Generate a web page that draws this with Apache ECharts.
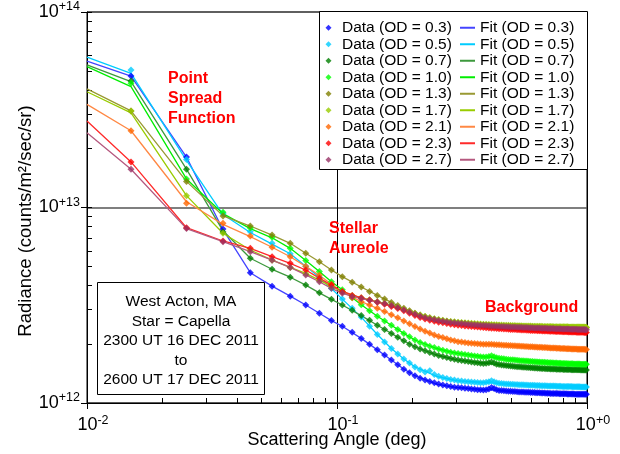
<!DOCTYPE html>
<html>
<head>
<meta charset="utf-8">
<script src="https://cdn.jsdelivr.net/npm/echarts@6/dist/echarts.min.js"></script>
<style>
html,body{margin:0;padding:0;background:#fff;}
#chart{width:620px;height:454px;}
</style>
</head>
<body>
<div id="chart"></div>
<script>
// ---------- DATA (radiance in units of 1e12 counts/m2/sec/sr) ----------
const odLabels = ['0.3','0.5','0.7','1.0','1.3','1.7','2.1','2.3','2.7'];

const dataAngles = [
0.015,0.025,0.035,0.045,0.055,0.065,0.075,0.085,0.095,0.105,
0.115,0.125,0.135,0.145,0.155,0.165,0.175,0.185,0.195,0.205,
0.215,0.225,0.235,0.245,0.255,0.265,0.275,0.285,0.295,0.305,
0.315,0.325,0.335,0.345,0.355,0.365,0.375,0.385,0.395,0.405,
0.415,0.425,0.435,0.445,0.455,0.465,0.475,0.485,0.495,0.505,
0.515,0.525,0.535,0.545,0.555,0.565,0.575,0.585,0.595,0.605,
0.615,0.625,0.635,0.645,0.655,0.665,0.675,0.685,0.695,0.705,
0.715,0.725,0.735,0.745,0.755,0.765,0.775,0.785,0.795,0.805,
0.815,0.825,0.835,0.845,0.855,0.865,0.875,0.885,0.895,0.905,
0.915,0.925,0.935,0.945,0.955,0.965,0.975,0.985,0.995];

const data03 = [
47,18.1,7.76,4.64,3.96,3.52,3.17,2.88,2.64,2.47,
2.3,2.14,2.0,1.87,1.76,1.66,1.57,1.49,1.43,1.38,
1.34,1.31,1.29,1.27,1.25,1.235,1.225,1.215,1.205,1.2,
1.195,1.19,1.185,1.18,1.175,1.17,1.168,1.165,1.17,1.18,
1.2,1.185,1.17,1.16,1.158,1.155,1.152,1.15,1.148,1.146,
1.145,1.143,1.14,1.14,1.138,1.136,1.135,1.134,1.132,1.131,
1.13,1.129,1.128,1.127,1.126,1.125,1.124,1.123,1.122,1.121,
1.12,1.12,1.119,1.118,1.118,1.117,1.116,1.116,1.115,1.115,
1.114,1.114,1.113,1.113,1.112,1.112,1.111,1.111,1.11,1.11,
1.11,1.109,1.109,1.108,1.108,1.108,1.107,1.107,1.107];
const data05 = [
50.5,17.6,9.33,7.52,6.56,5.8,5.0,4.4,3.85,3.4,
3.05,2.75,2.47,2.24,2.05,1.9,1.78,1.68,1.6,1.53,
1.48,1.44,1.46,1.4,1.37,1.35,1.335,1.32,1.31,1.3,
1.295,1.29,1.285,1.28,1.276,1.272,1.27,1.268,1.275,1.285,
1.3,1.285,1.27,1.262,1.258,1.255,1.252,1.25,1.248,1.246,
1.244,1.242,1.24,1.239,1.238,1.236,1.235,1.234,1.233,1.232,
1.231,1.23,1.229,1.228,1.227,1.226,1.225,1.224,1.223,1.222,
1.222,1.221,1.22,1.22,1.219,1.218,1.218,1.217,1.216,1.216,
1.215,1.215,1.214,1.214,1.213,1.213,1.212,1.212,1.211,1.211,
1.21,1.21,1.21,1.209,1.209,1.209,1.208,1.208,1.208];
const data07 = [
44.4,15.7,7.5,5.5,4.83,4.4,4.01,3.66,3.39,3.17,
2.98,2.8,2.65,2.5,2.38,2.27,2.17,2.08,2.0,1.94,
1.89,1.85,1.81,1.78,1.75,1.73,1.71,1.69,1.675,1.66,
1.65,1.64,1.63,1.62,1.612,1.605,1.598,1.592,1.595,1.605,
1.62,1.6,1.58,1.572,1.566,1.56,1.555,1.55,1.545,1.541,
1.537,1.534,1.531,1.528,1.525,1.522,1.52,1.517,1.515,1.513,
1.511,1.509,1.507,1.505,1.503,1.501,1.5,1.498,1.497,1.495,
1.494,1.493,1.492,1.491,1.49,1.489,1.488,1.487,1.486,1.485,
1.485,1.484,1.483,1.483,1.482,1.481,1.481,1.48,1.48,1.479,
1.479,1.478,1.478,1.477,1.477,1.477,1.476,1.476,1.476];
const data10 = [
43.2,14.0,9.45,7.85,7.04,6.18,5.35,4.7,4.17,3.8,
3.45,3.18,2.96,2.78,2.63,2.5,2.38,2.27,2.18,2.1,
2.04,1.99,1.95,1.92,1.89,1.86,1.84,1.82,1.8,1.79,
1.78,1.77,1.76,1.75,1.74,1.732,1.725,1.718,1.72,1.73,
1.745,1.725,1.705,1.695,1.688,1.682,1.676,1.671,1.666,1.662,
1.658,1.654,1.65,1.647,1.644,1.641,1.638,1.635,1.632,1.63,
1.627,1.625,1.622,1.62,1.618,1.616,1.614,1.612,1.61,1.608,
1.606,1.605,1.603,1.601,1.6,1.598,1.597,1.595,1.594,1.593,
1.592,1.591,1.59,1.589,1.588,1.587,1.586,1.585,1.584,1.583,
1.582,1.582,1.581,1.58,1.58,1.579,1.578,1.578,1.577];
const data13 = [
31.2,13.6,9.06,8.04,7.23,6.56,5.83,5.28,4.79,4.43,
4.15,3.92,3.72,3.55,3.4,3.27,3.15,3.05,2.96,2.88,
2.82,2.77,2.73,2.69,2.66,2.64,2.62,2.6,2.585,2.575,
2.565,2.555,2.545,2.537,2.53,2.524,2.518,2.513,2.508,2.504,
2.5,2.496,2.492,2.489,2.486,2.483,2.48,2.477,2.475,2.472,
2.47,2.468,2.466,2.464,2.462,2.46,2.458,2.456,2.455,2.453,
2.452,2.45,2.449,2.448,2.446,2.445,2.444,2.443,2.442,2.441,
2.44,2.439,2.438,2.437,2.436,2.436,2.435,2.434,2.433,2.433,
2.432,2.431,2.431,2.43,2.43,2.429,2.428,2.428,2.427,2.427,
2.426,2.426,2.425,2.425,2.424,2.424,2.424,2.423,2.423];
const data17 = [
31.2,11.5,7.38,6.06,5.38,4.94,4.6,4.25,3.95,3.7,
3.55,3.45,3.37,3.3,3.24,3.17,3.1,3.02,2.95,2.88,
2.82,2.77,2.73,2.7,2.67,2.65,2.63,2.615,2.6,2.59,
2.58,2.57,2.562,2.555,2.548,2.542,2.536,2.531,2.526,2.522,
2.518,2.514,2.51,2.507,2.504,2.501,2.498,2.495,2.493,2.49,
2.488,2.486,2.484,2.482,2.48,2.478,2.477,2.475,2.474,2.472,
2.471,2.47,2.468,2.467,2.466,2.465,2.464,2.463,2.462,2.461,
2.46,2.459,2.458,2.458,2.457,2.456,2.455,2.455,2.454,2.453,
2.453,2.452,2.452,2.451,2.45,2.45,2.449,2.449,2.448,2.448,
2.447,2.447,2.446,2.446,2.446,2.445,2.445,2.444,2.444];
const data21 = [
24.7,10.5,8.3,7.15,6.26,5.6,5.0,4.5,4.05,3.7,
3.45,3.3,3.17,3.05,2.94,2.83,2.73,2.63,2.54,2.46,
2.39,2.33,2.28,2.23,2.19,2.16,2.13,2.1,2.08,2.06,
2.05,2.04,2.03,2.022,2.015,2.009,2.004,2.0,1.998,1.998,
1.996,1.992,1.988,1.984,1.98,1.977,1.974,1.971,1.968,1.965,
1.962,1.959,1.956,1.953,1.95,1.947,1.945,1.942,1.94,1.937,
1.935,1.932,1.93,1.928,1.926,1.924,1.922,1.92,1.918,1.916,
1.914,1.912,1.91,1.909,1.907,1.905,1.904,1.902,1.901,1.899,
1.898,1.896,1.895,1.894,1.892,1.891,1.89,1.889,1.888,1.887,
1.886,1.885,1.884,1.883,1.882,1.881,1.881,1.88,1.879];
const data23 = [
17.1,7.88,6.74,6.18,5.6,5.18,4.79,4.35,4.01,3.72,
3.55,3.45,3.36,3.28,3.2,3.12,3.04,2.96,2.88,2.8,
2.74,2.69,2.65,2.62,2.59,2.57,2.55,2.53,2.515,2.5,
2.49,2.48,2.47,2.46,2.452,2.445,2.438,2.432,2.426,2.42,
2.415,2.41,2.405,2.4,2.396,2.392,2.388,2.384,2.38,2.377,
2.374,2.371,2.368,2.365,2.362,2.36,2.357,2.355,2.352,2.35,
2.348,2.346,2.344,2.342,2.34,2.338,2.336,2.334,2.332,2.331,
2.329,2.327,2.326,2.324,2.323,2.321,2.32,2.318,2.317,2.316,
2.314,2.313,2.312,2.311,2.309,2.308,2.307,2.306,2.305,2.304,
2.303,2.302,2.301,2.3,2.299,2.298,2.297,2.296,2.295];
const data27 = [
15.7,7.8,6.69,5.94,5.38,4.94,4.52,4.17,3.86,3.64,
3.5,3.42,3.35,3.29,3.23,3.16,3.08,3.0,2.92,2.85,
2.79,2.74,2.7,2.67,2.64,2.62,2.6,2.58,2.57,2.56,
2.55,2.54,2.53,2.522,2.515,2.508,2.502,2.496,2.49,2.485,
2.48,2.476,2.472,2.468,2.464,2.46,2.457,2.454,2.451,2.448,
2.445,2.442,2.44,2.437,2.435,2.432,2.43,2.428,2.426,2.424,
2.422,2.42,2.418,2.416,2.414,2.413,2.411,2.409,2.408,2.406,
2.405,2.403,2.402,2.4,2.399,2.398,2.396,2.395,2.394,2.392,
2.391,2.39,2.389,2.388,2.386,2.385,2.384,2.383,2.382,2.381,
2.38,2.379,2.378,2.377,2.376,2.375,2.374,2.373,2.372];

const fitAngles = [0.01,0.015,0.025,0.035,0.045,0.055,0.065,0.075,0.085,0.095,0.105,
                   0.125,0.145,0.165,0.185,0.205,0.25,0.3,0.4,0.5,0.7,1.0];
const fit03 = [56,47,18.1,7.7,4.64,3.96,3.52,3.17,2.88,2.64,2.47,2.14,1.87,1.66,1.49,1.38,1.25,1.2,1.17,1.146,1.122,1.107];
const fit05 = [58.7,48.5,17.4,9.2,7.45,6.5,5.8,5.0,4.4,3.85,3.4,2.75,2.24,1.9,1.68,1.53,1.37,1.3,1.27,1.246,1.222,1.208];
const fit07 = [53.6,44,15.7,7.6,5.5,4.83,4.4,4.01,3.66,3.39,3.17,2.8,2.5,2.27,2.08,1.94,1.76,1.66,1.595,1.541,1.495,1.476];
const fit10 = [52.5,41.5,14,9.3,7.8,7.0,6.18,5.35,4.7,4.17,3.8,3.18,2.78,2.5,2.27,2.1,1.9,1.8,1.72,1.662,1.608,1.577];
const fit13 = [40.4,31.2,13.6,9.06,8.04,7.23,6.56,5.83,5.28,4.79,4.43,3.92,3.55,3.27,3.05,2.88,2.67,2.58,2.506,2.472,2.441,2.423];
const fit17 = [39.1,30.5,11.5,7.38,6.06,5.38,4.94,4.6,4.25,3.95,3.7,3.45,3.3,3.17,3.02,2.88,2.68,2.595,2.524,2.49,2.461,2.444];
const fit21 = [33.7,24.7,10.7,8.2,7.1,6.26,5.6,5.0,4.5,4.05,3.7,3.3,3.05,2.83,2.63,2.46,2.2,2.07,1.998,1.965,1.916,1.879];
const fit23 = [27.7,17.1,7.88,6.74,6.18,5.6,5.18,4.79,4.35,4.01,3.72,3.45,3.28,3.12,2.96,2.8,2.6,2.507,2.423,2.377,2.331,2.295];
const fit27 = [24.1,15.7,7.8,6.69,5.94,5.38,4.94,4.52,4.17,3.86,3.64,3.42,3.29,3.16,3.0,2.85,2.65,2.565,2.488,2.448,2.406,2.372];

const xTickValues = [0.01, 0.1, 1];
const xTickExp = ['-2', '-1', '+0'];
const yTickValues = [1e12, 1e13, 1e14];
const yTickExp = ['+12', '+13', '+14'];
const UNIT = 1e12;

// ---------- STYLE ----------
const dataColors = ['#0000ff','#00ccff','#008000','#00ff00','#808000','#99cc00','#ff6600','#ff0000','#993366'];
const fitColors  = ['#4444ff','#00ccff','#3d993d','#00ee00','#999933','#99cc00','#ff8844','#ff2a2a','#b5587f'];
const FONT = 'Arial, "Liberation Sans", sans-serif';

const dataSets = [data03,data05,data07,data10,data13,data17,data21,data23,data27];
const fitSets  = [fit03,fit05,fit07,fit10,fit13,fit17,fit21,fit23,fit27];

const series = [];
odLabels.forEach((od, i) => {
  series.push({
    type: 'line', name: 'Fit (OD = ' + od + ')',
    data: fitAngles.map((x, j) => [x, fitSets[i][j] * UNIT]),
    symbol: 'none', showSymbol: false, silent: true, animation: false,
    lineStyle: { width: 1.3, color: fitColors[i] },
    itemStyle: { color: fitColors[i] }, z: 2
  });
});
odLabels.forEach((od, i) => {
  series.push({
    type: 'scatter', name: 'Data (OD = ' + od + ')',
    data: dataAngles.map((x, j) => [x, dataSets[i][j] * UNIT]),
    symbol: 'diamond', symbolSize: 7, silent: true, animation: false,
    itemStyle: { color: dataColors[i] }, z: 3
  });
});

function tickIdx(vals, v) {
  return vals.findIndex(t => Math.abs(t - v) / t < 1e-6);
}
const supRich = {
  h: { width: 12, fontSize: 18, fontFamily: FONT },
  b: { fontSize: 18, fontFamily: FONT, color: '#000' },
  s: { fontSize: 12.5, fontFamily: FONT, color: '#000', padding: [0, 0, 10, 0] }
};

const chart = echarts.init(document.getElementById('chart'), null, { renderer: 'canvas' });
chart.setOption({
  backgroundColor: '#fff',
  animation: false,
  grid: { left: 87, right: 33, top: 12, bottom: 51, containLabel: false, outerBoundsMode: 'none',
          show: true, borderColor: '#000', borderWidth: 1, backgroundColor: 'transparent' },
  xAxis: [{
    type: 'log', logBase: 10, min: 0.01, max: 1, position: 'bottom',
    axisLine: { show: true, lineStyle: { color: '#000', width: 1 } },
    axisTick: { show: true, inside: true, length: 5, lineStyle: { color: '#000' } },
    minorTick: { show: true, splitNumber: 9, length: 5, lineStyle: { color: '#000' } },
    splitLine: { show: true, lineStyle: { color: '#000', width: 1 } },
    minorSplitLine: { show: false },
    axisLabel: {
      margin: 11, color: '#000',
      formatter: (v) => { const k = tickIdx(xTickValues, v); return k < 0 ? '' : '{h| }{b|10}{s|' + xTickExp[k] + '}'; },
      rich: supRich
    }
  }, {
    type: 'log', logBase: 10, min: 0.01, max: 1, position: 'bottom',
    axisLine: { show: false },
    axisTick: { show: true, inside: false, length: 6, lineStyle: { color: '#000' } },
    axisLabel: { show: false }, splitLine: { show: false }, minorTick: { show: false }
  }],
  yAxis: [{
    type: 'log', logBase: 10, min: 1e12, max: 1e14, position: 'left',
    axisLine: { show: true, lineStyle: { color: '#000', width: 1 } },
    axisTick: { show: true, inside: true, length: 5, lineStyle: { color: '#000' } },
    minorTick: { show: true, splitNumber: 9, length: 5, lineStyle: { color: '#000' } },
    splitLine: { show: true, lineStyle: { color: '#555', width: 1.6 } },
    minorSplitLine: { show: false },
    axisLabel: {
      margin: 7, color: '#000',
      formatter: (v) => { const k = tickIdx(yTickValues, v); return k < 0 ? '' : '{b|10}{s|' + yTickExp[k] + '}'; },
      rich: supRich
    }
  }, {
    type: 'log', logBase: 10, min: 1e12, max: 1e14, position: 'left',
    axisLine: { show: false },
    axisTick: { show: true, inside: false, length: 6, lineStyle: { color: '#000' } },
    axisLabel: { show: false }, splitLine: { show: false }, minorTick: { show: false }
  }],
  legend: [{
    data: odLabels.map(od => ({ name: 'Data (OD = ' + od + ')', icon: 'diamond' })),
    orient: 'vertical', left: 320.5, top: 14.5, z: 20,
    itemWidth: 6, itemHeight: 6, itemGap: 0,
    selectedMode: false,
    textStyle: { fontSize: 15.5, fontFamily: FONT, color: '#000', lineHeight: 16.5, padding: [0, 0, 0, 5.5] }
  }, {
    data: odLabels.map(od => ({ name: 'Fit (OD = ' + od + ')', icon: 'rect' })),
    orient: 'vertical', left: 455, top: 14.5, z: 20,
    itemWidth: 15, itemHeight: 2, itemGap: 0,
    selectedMode: false,
    textStyle: { fontSize: 15.5, fontFamily: FONT, color: '#000', lineHeight: 16.5 }
  }],
  graphic: [
    { type: 'rect', z: 10, shape: { x: 319.5, y: 11.5, width: 268, height: 158 },
      style: { fill: '#fff', stroke: '#000', lineWidth: 1 } },
    { type: 'rect', z: 10, shape: { x: 97.5, y: 282.5, width: 167, height: 112 },
      style: { fill: '#fff', stroke: '#000', lineWidth: 1 } },
    { type: 'text', z: 11, x: 181, y: 341,
      style: { text: 'West Acton, MA\nStar = Capella\n2300 UT 16 DEC 2011\nto\n2600 UT 17 DEC 2011',
        fontSize: 15.5, fontFamily: FONT, fill: '#000', align: 'center', verticalAlign: 'middle', lineHeight: 19.5 } },
    { type: 'text', z: 11, x: 168, y: 98.5,
      style: { text: 'Point\nSpread\nFunction', fontSize: 16, fontWeight: 'bold', fontFamily: FONT,
        fill: '#ff0000', align: 'left', verticalAlign: 'middle', lineHeight: 20 } },
    { type: 'text', z: 11, x: 329, y: 239,
      style: { text: 'Stellar\nAureole', fontSize: 16, fontWeight: 'bold', fontFamily: FONT,
        fill: '#ff0000', align: 'left', verticalAlign: 'middle', lineHeight: 20 } },
    { type: 'text', z: 11, x: 485, y: 307.5,
      style: { text: 'Background', fontSize: 16, fontWeight: 'bold', fontFamily: FONT,
        fill: '#ff0000', align: 'left', verticalAlign: 'middle' } },
    { type: 'text', z: 11, x: 337, y: 440,
      style: { text: 'Scattering Angle (deg)', fontSize: 18, fontFamily: FONT,
        fill: '#000', align: 'center', verticalAlign: 'middle' } },
    { type: 'text', z: 11, x: 26, y: 221, rotation: Math.PI / 2,
      style: { text: 'Radiance (counts/m\u00b2/sec/sr)', fontSize: 18.5, fontFamily: FONT,
        fill: '#000', align: 'center', verticalAlign: 'middle' } }
  ],
  series: series
});
</script>
</body>
</html>
